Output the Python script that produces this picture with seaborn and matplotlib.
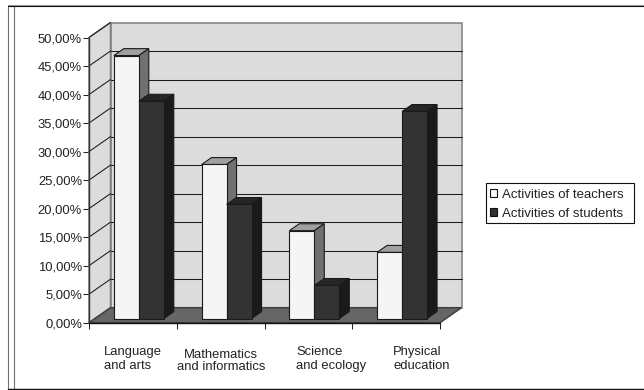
import matplotlib
matplotlib.use("Agg")
import matplotlib.pyplot as plt
from matplotlib.lines import Line2D
from matplotlib.patches import Polygon, Rectangle
import pandas as pd
import seaborn as sns

categories = ["Language\nand arts", "Mathematics\nand informatics", "Science\nand ecology", "Physical\neducation"]
series_names = ["Activities of teachers", "Activities of students"]
teachers = [46.1, 27.0, 15.4, 11.6]
students = [38.1, 20.0, 5.8, 36.3]
y_ticks = list(range(0, 55, 5))
y_tick_labels = [f"{v},00%" for v in y_ticks]

W, H = 644, 390
FONT = "Liberation Sans"
sns.set_style("white")
plt.rcParams["font.family"] = FONT

fig = plt.figure(figsize=(W / 100, H / 100), dpi=100, facecolor="white")
X0, X1, Y_BASE, Y_TOP = 89, 440, 322.7, 37.5
ax = fig.add_axes([X0 / W, 1 - Y_BASE / H, (X1 - X0) / W, (Y_BASE - Y_TOP) / H])

table = pd.DataFrame({
    "category": categories * 2,
    "series": [series_names[0]] * 4 + [series_names[1]] * 4,
    "value": teachers + students,
})
sns.barplot(data=table, x="category", y="value", hue="series", ax=ax, width=0.57, gap=0,
            palette=["#F5F5F5", "#333333"], edgecolor="#1a1a1a", linewidth=0.8,
            saturation=1, legend=False, zorder=5)
ax.set_xlim(-0.5, 3.5)
ax.set_ylim(0, 50)
ax.set_xlabel("")
ax.set_ylabel("")
ax.patch.set_visible(False)
for spine in ax.spines.values():
    spine.set_visible(False)

# Oblique projection: one unit of depth moves a point right and up.
DX = 21.5 * 4 / (X1 - X0)
DY = 15 * 50 / (Y_BASE - Y_TOP)
def proj(x, y, d=0.0):
    return (x + d * DX, y + d * DY)

def face(points, color, edge, lw=0.8, z=1):
    ax.add_patch(Polygon(points, closed=True, facecolor=color, edgecolor=edge,
                         linewidth=lw, zorder=z, clip_on=False))

xa, xb = -0.5, 3.5
WALL, WALL_EDGE = "#DCDCDC", "#808080"
face([proj(xa, 0, 1), proj(xb, 0, 1), proj(xb, 50, 1), proj(xa, 50, 1)], WALL, WALL_EDGE, 1.1)
face([proj(xa, 0), proj(xa, 50), proj(xa, 50, 1), proj(xa, 0, 1)], WALL, WALL_EDGE, 1.1)
face([proj(xa, 0), proj(xb, 0), proj(xb, 0, 1), proj(xa, 0, 1)], "#666666", "#404040", 1.1, z=2)

for v in y_ticks[1:]:
    if v < 50:
        ax.plot(*zip(proj(xa, v, 1), proj(xb, v, 1)), color="#1a1a1a", lw=0.75, zorder=1.5, clip_on=False)
    ax.plot(*zip(proj(xa, v), proj(xa, v, 1)), color="#1a1a1a", lw=0.75, zorder=1.5, clip_on=False)

# Turn the flat bars into blocks standing on the floor, with top and side faces.
D_FRONT, D_BACK = 0.28, 0.74
shades = [("#A0A0A0", "#707070"), ("#262626", "#1A1A1A")]
n = len(categories)
for i, bar in enumerate(ax.patches[:2 * n]):
    top_col, side_col = shades[i // n]
    x, w, h = bar.get_x(), bar.get_width(), bar.get_height()
    x += D_FRONT * DX
    y0 = D_FRONT * DY
    bar.set_x(x)
    bar.set_y(y0)
    bar.set_clip_on(False)
    z = 3 + i % n + (i // n) * 0.5
    bar.set_zorder(z + 0.2)
    span = D_BACK - D_FRONT
    face([(x, y0 + h), (x + w, y0 + h), proj(x + w, y0 + h, span), proj(x, y0 + h, span)],
         top_col, "#1a1a1a", 0.8, z)
    face([(x + w, y0), (x + w, y0 + h), proj(x + w, y0 + h, span), proj(x + w, y0, span)],
         side_col, "#1a1a1a", 0.8, z)

ax.set_yticks(y_ticks)
ax.set_yticklabels(y_tick_labels)
ax.set_xticks([-0.5, 0.5, 1.5, 2.5, 3.5])
ax.set_xticklabels([])
ax.tick_params(axis="both", which="major", length=4, width=0.75, color="#222222",
               labelcolor="#222222", labelsize=9.4, pad=1, left=True, bottom=True)
ax.plot([xa, xa], [0, 50], color="#333333", lw=1.0, zorder=2.5, clip_on=False)
ax.plot([xa, xb], [0, 0], color="#111111", lw=1.0, zorder=2.5, clip_on=False)

# Category captions sit below the tick marks.
caption_x = [104, 221, 296.5, 393]
caption_align = ["left", "center", "left", "left"]
caption_y = [359, 360.5, 359, 359]
caption_gap = [1.3, 1.0, 1.3, 1.3]
for label, cx, cy, al, gap in zip(categories, caption_x, caption_y, caption_align, caption_gap):
    fig.text(cx / W, 1 - cy / H, label, ha=al, va="center", multialignment=al,
             linespacing=gap, fontsize=9.4, color="#222222")

# Figure frame: grey outer rule, dark inner rule, doubled on the left.
def rule(x0, y0, x1, y1, color, lw=0.8):
    fig.add_artist(Line2D([x0 / W, x1 / W], [1 - y0 / H, 1 - y1 / H], color=color, lw=lw))

rule(7.5, 5, 7.5, 390, "#707070")
rule(13.5, 6, 13.5, 390, "#707070")
rule(7.5, 5, 644, 5, "#a0a0a0")
rule(7.5, 6.3, 644, 6.3, "#111111")
rule(7.5, 389, 644, 389, "#111111", 1.0)

# Legend box is drawn separately so its inner margins can differ left and right.
fig.add_artist(Rectangle((485.5 / W, 1 - 223 / H), 148 / W, 40 / H, transform=fig.transFigure,
                         facecolor="white", edgecolor="#111111", linewidth=0.8))
handles = [Rectangle((0, 0), 1, 1, facecolor=c, edgecolor="#111111", linewidth=0.8)
           for c in ["#F5F5F5", "#333333"]]
fig.legend(handles, series_names, loc="upper left", bbox_to_anchor=(490 / W, 1 - 188.5 / H),
           bbox_transform=fig.transFigure, fontsize=9.55, frameon=False, borderpad=0,
           labelspacing=0.55, handlelength=0.55, handleheight=0.55, handletextpad=0.34,
           borderaxespad=0, labelcolor="#222222")

fig.savefig("out.png", dpi=100)
